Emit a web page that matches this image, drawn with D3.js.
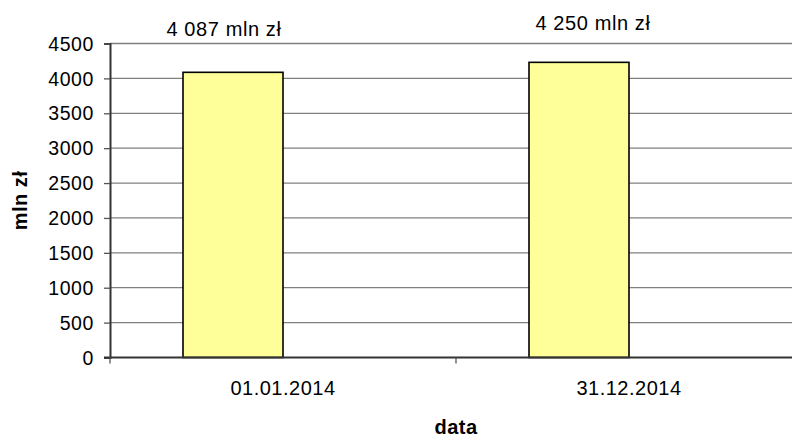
<!DOCTYPE html>
<html>
<head>
<meta charset="utf-8">
<script src="https://cdn.jsdelivr.net/npm/d3@7"></script>
<style>
    body { margin: 0; background: #fff; }
    text { font-family: "Liberation Sans", Arial, sans-serif; fill: #000; }
</style>
</head>
<body>
<script>
//chart data
var categories = ["01.01.2014", "31.12.2014"];
var values = [4087, 4230];
var valueLabels = ["4 087 mln zł", "4 250 mln zł"];
var yTicks = [0, 500, 1000, 1500, 2000, 2500, 3000, 3500, 4000, 4500];
//excel reserves room for a second (empty) series in each group
var seriesSlots = ["s1", "s2"];

//svg dimension variables
var w = 792, h = 438;
var margin = {top: 43.5, right: -10, bottom: 80.5, left: 110};

var svg = d3.select("body")
    .append("svg")
    .attr("width", w)
    .attr("height", h);

//x scale for categories, inner scale for series slots
var x = d3.scaleBand()
    .domain(categories)
    .range([margin.left, w - margin.right]);

var x1 = d3.scaleBand()
    .domain(seriesSlots)
    .range([0, x.bandwidth()])
    .paddingOuter(0.73);

var y = d3.scaleLinear()
    .domain([0, 4500])
    .range([h - margin.bottom, margin.top]);

//horizontal gridlines
svg.append("g")
    .selectAll("line")
    .data(yTicks.slice(1))
    .enter()
    .append("line")
    .attr("x1", margin.left)
    .attr("x2", w - margin.right)
    .attr("y1", function(d){ return y(d); })
    .attr("y2", function(d){ return y(d); })
    .style("stroke", "#808080")
    .style("stroke-width", 1.3);

//bars
svg.append("g")
    .selectAll("rect")
    .data(values)
    .enter()
    .append("rect")
    .attr("x", function(d, i){ return x(categories[i]) + x1("s1"); })
    .attr("y", function(d){ return y(d); })
    .attr("width", x1.bandwidth())
    .attr("height", function(d){ return y(0) - y(d); })
    .style("fill", "#FFFF99")
    .style("stroke", "#000")
    .style("stroke-width", 1.6);

//y axis
var yAxis = d3.axisLeft(y)
    .tickValues(yTicks)
    .tickSize(6)
    .tickPadding(10)
    .tickFormat(d3.format("d"));

var yg = svg.append("g")
    .attr("transform", "translate(" + margin.left + ",0)")
    .call(yAxis);
yg.select(".domain").style("stroke", "#333").style("stroke-width", 2);
yg.selectAll(".tick line").style("stroke", "#555").style("stroke-width", 1.3);
yg.selectAll(".tick text")
    .style("font-size", "19.5px")
    .style("letter-spacing", "0.6px")
    .attr("dy", "0.34em");

//x axis: ticks on the category boundaries
var xg = svg.append("g")
    .attr("transform", "translate(0," + y(0) + ")");
xg.append("line")
    .attr("x1", margin.left - 6)
    .attr("x2", w - margin.right)
    .style("stroke", "#333")
    .style("stroke-width", 2);
xg.selectAll(".xtick")
    .data(categories)
    .enter()
    .append("line")
    .attr("class", "xtick")
    .attr("x1", function(d){ return x(d); })
    .attr("x2", function(d){ return x(d); })
    .attr("y1", 0)
    .attr("y2", 6)
    .style("stroke", "#555")
    .style("stroke-width", 1.3);
xg.selectAll(".xlabel")
    .data(categories)
    .enter()
    .append("text")
    .attr("class", "xlabel")
    .attr("x", function(d){ return x(d) + x.bandwidth() / 2; })
    .attr("y", 37.5)
    .attr("text-anchor", "middle")
    .style("font-size", "20px")
    .style("letter-spacing", "0.5px")
    .text(function(d){ return d; });

//value labels above the bars (hand-placed in the original)
var labelShift = [-9, 14];
var labelRise = [36, 32];
svg.append("g")
    .selectAll("text")
    .data(values)
    .enter()
    .append("text")
    .attr("x", function(d, i){ return x(categories[i]) + x1("s1") + x1.bandwidth() / 2 + labelShift[i]; })
    .attr("y", function(d, i){ return y(d) - labelRise[i]; })
    .attr("text-anchor", "middle")
    .style("font-size", "20px")
    .style("letter-spacing", "0.6px")
    .text(function(d, i){ return valueLabels[i]; });

//axis titles
svg.append("text")
    .attr("transform", "translate(27," + (margin.top + y(0)) / 2 + ") rotate(-90)")
    .attr("text-anchor", "middle")
    .style("font-size", "20px")
    .style("font-weight", "bold")
    .style("letter-spacing", "0.5px")
    .text("mln zł");

svg.append("text")
    .attr("x", x(categories[1]))
    .attr("y", 434)
    .attr("text-anchor", "middle")
    .style("font-size", "20px")
    .style("font-weight", "bold")
    .style("letter-spacing", "0.5px")
    .text("data");
</script>
</body>
</html>
